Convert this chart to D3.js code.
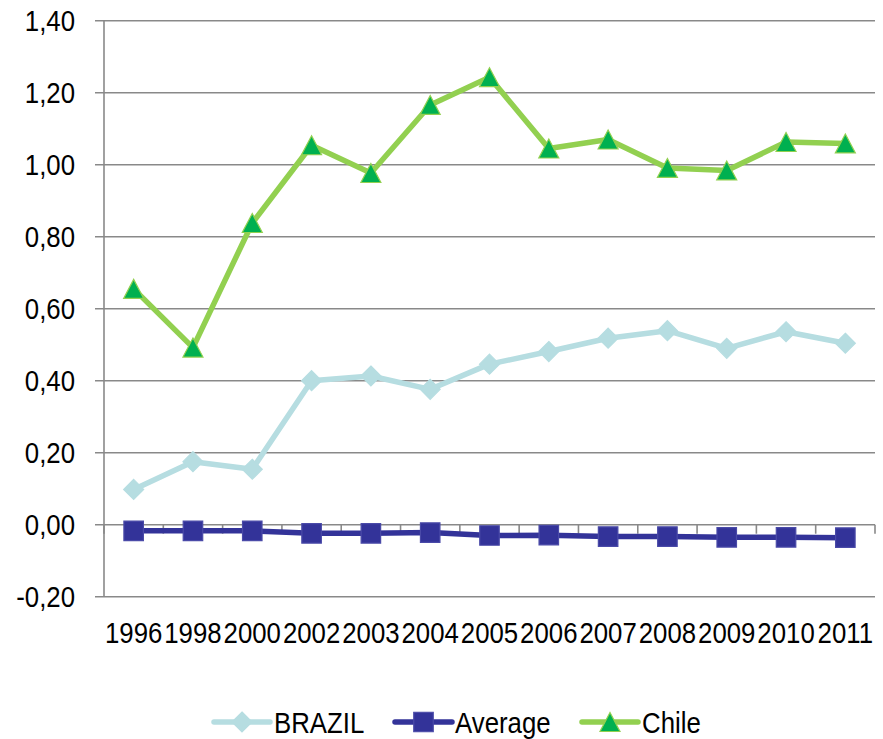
<!DOCTYPE html>
<html>
<head>
<meta charset="utf-8">
<script src="https://cdn.jsdelivr.net/npm/d3@7"></script>
<style>
  html, body { margin: 0; padding: 0; background: #ffffff; }
  svg { display: block; }
  text { font-family: "Liberation Sans", Arial, sans-serif; fill: #000; }
</style>
</head>
<body>
<svg id="chart" width="883" height="739"></svg>
<script>
// Years on the category axis
const years = ["1996","1998","2000","2002","2003","2004","2005","2006","2007","2008","2009","2010","2011"];

// Series values
const brazil  = [0.098, 0.175, 0.154, 0.400, 0.413, 0.376, 0.446, 0.481, 0.518, 0.539, 0.490, 0.536, 0.504];
const average = [-0.017, -0.017, -0.017, -0.024, -0.024, -0.022, -0.030, -0.029, -0.033, -0.033, -0.035, -0.035, -0.036];
const chile   = [0.655, 0.492, 0.838, 1.054, 0.977, 1.166, 1.243, 1.045, 1.070, 0.991, 0.984, 1.063, 1.059];

// Value axis ticks
const yTicks = [-0.2, 0, 0.2, 0.4, 0.6, 0.8, 1.0, 1.2, 1.4];

const svg = d3.select("#chart");
const plot = { left: 104, right: 875, top: 20.7, bottom: 596.7 };

const x = d3.scaleBand().domain(years).range([plot.left, plot.right]).paddingInner(0).paddingOuter(0);
const y = d3.scaleLinear().domain([-0.2, 1.4]).range([plot.bottom, plot.top]);
const cx = d => x(d) + x.bandwidth() / 2;

const fmt = v => d3.format(".2f")(v).replace(".", ",").replace("−", "-");

// Narrow lettering: regular sans squeezed horizontally
const narrow = 0.86;
const place = (px, py) => `translate(${px},${py}) scale(${narrow},1)`;

const gridColor = "#898989";

// Horizontal gridlines with short ticks left of the value axis
svg.append("g").selectAll("line")
  .data(yTicks)
  .join("line")
  .attr("x1", plot.left - 9)
  .attr("x2", plot.right)
  .attr("y1", d => y(d))
  .attr("y2", d => y(d))
  .attr("stroke", gridColor)
  .attr("stroke-width", 1.6);

// Value axis line
svg.append("line")
  .attr("x1", plot.left).attr("x2", plot.left)
  .attr("y1", plot.top).attr("y2", plot.bottom)
  .attr("stroke", gridColor).attr("stroke-width", 1.6);

// Category axis at zero, with ticks between categories
const xAxis = d3.axisBottom(x).tickSize(0).tickFormat("");
const xg = svg.append("g").attr("transform", `translate(0,${y(0)})`).call(xAxis);
xg.select(".domain").remove();
const boundaries = years.map(d => x(d)).concat([plot.right]);
svg.append("g").selectAll("line")
  .data(boundaries)
  .join("line")
  .attr("x1", d => d).attr("x2", d => d)
  .attr("y1", y(0)).attr("y2", y(0) + 9)
  .attr("stroke", gridColor).attr("stroke-width", 1.6);

// Value labels
svg.append("g").selectAll("text")
  .data(yTicks)
  .join("text")
  .attr("transform", d => place(75, y(d) + 10.7))
  .attr("text-anchor", "end")
  .attr("font-size", 30)
  .text(d => fmt(d));

// Category labels
svg.append("g").selectAll("text")
  .data(years)
  .join("text")
  .attr("transform", d => place(cx(d), 643))
  .attr("text-anchor", "middle")
  .attr("font-size", 30)
  .text(d => d);

// Marker shapes
const diamondType = { draw(ctx, size) { const r = Math.sqrt(size) / 2; ctx.moveTo(0, -r); ctx.lineTo(r, 0); ctx.lineTo(0, r); ctx.lineTo(-r, 0); ctx.closePath(); } };
const squareType = { draw(ctx, size) { const r = Math.sqrt(size) / 2; ctx.rect(-r, -r, 2 * r, 2 * r); } };
const triangleType = { draw(ctx, size) { const r = Math.sqrt(size) / 2; ctx.moveTo(0, -r * 0.95); ctx.lineTo(r, r * 0.95); ctx.lineTo(-r, r * 0.95); ctx.closePath(); } };

const series = [
  { name: "BRAZIL",  values: brazil,  line: "#b6dde1", fill: "#b6dde1", stroke: "#b6dde1", type: diamondType,  size: 400 },
  { name: "Average", values: average, line: "#333399", fill: "#333399", stroke: "#4a4aa8", type: squareType,   size: 380 },
  { name: "Chile",   values: chile,   line: "#92d050", fill: "#00b050", stroke: "#92d050", type: triangleType, size: 400 }
];

const line = d3.line().x(d => cx(d.year)).y(d => y(d.value));

series.forEach(s => {
  const pts = years.map((yr, i) => ({ year: yr, value: s.values[i] }));
  const g = svg.append("g");
  g.append("path")
    .datum(pts)
    .attr("d", line)
    .attr("fill", "none")
    .attr("stroke", s.line)
    .attr("stroke-width", 5.5)
    .attr("stroke-linejoin", "round");
  g.selectAll("path.marker")
    .data(pts)
    .join("path")
    .attr("class", "marker")
    .attr("transform", d => `translate(${cx(d.year)},${y(d.value)})`)
    .attr("d", d3.symbol().type(s.type).size(s.size))
    .attr("fill", s.fill)
    .attr("stroke", s.stroke)
    .attr("stroke-width", 1.2);
});

// Legend
const legendItems = [
  { s: series[0], x0: 214, x1: 270, tx: 274 },
  { s: series[1], x0: 395, x1: 452, tx: 455 },
  { s: series[2], x0: 582, x1: 638, tx: 642 }
];
const legendY = 722;
const lg = svg.append("g");
legendItems.forEach(it => {
  lg.append("line")
    .attr("x1", it.x0).attr("x2", it.x1)
    .attr("y1", legendY).attr("y2", legendY)
    .attr("stroke", it.s.line).attr("stroke-width", 5.5)
    .attr("stroke-linecap", "round");
  lg.append("path")
    .attr("transform", `translate(${(it.x0 + it.x1) / 2},${legendY})`)
    .attr("d", d3.symbol().type(it.s.type).size(it.s.size))
    .attr("fill", it.s.fill)
    .attr("stroke", it.s.stroke)
    .attr("stroke-width", 1.2);
  lg.append("text")
    .attr("transform", place(it.tx, legendY + 10.7))
    .attr("font-size", 30)
    .text(it.s.name);
});
</script>
</body>
</html>
